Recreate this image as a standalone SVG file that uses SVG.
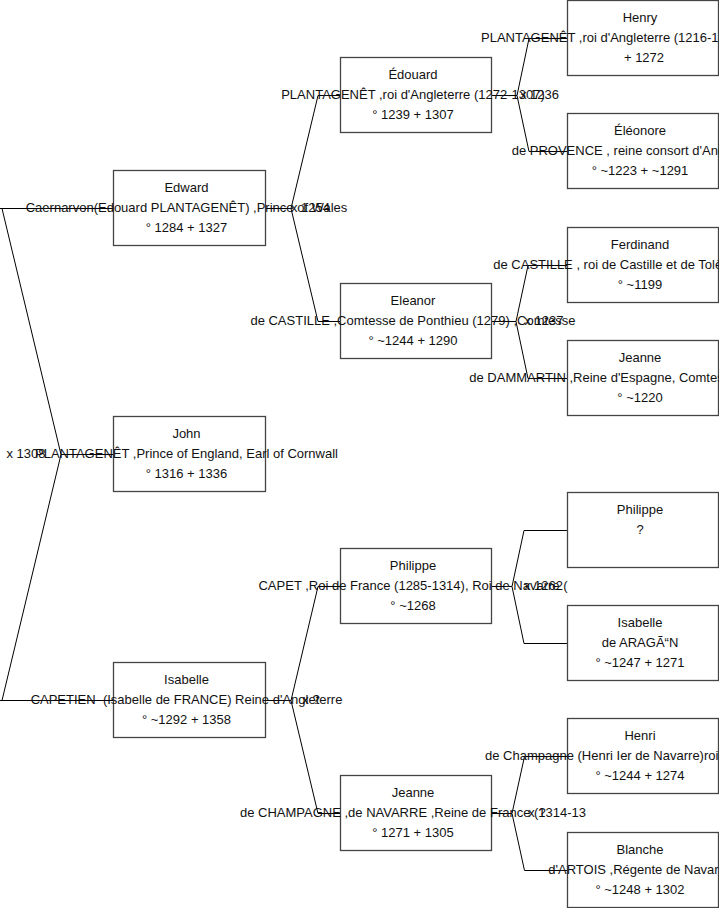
<svg xmlns="http://www.w3.org/2000/svg" width="719" height="908" viewBox="0 0 719 908">
<style>
.box{fill:#fff;stroke:#444;stroke-width:1.3}
.t{font-family:"Liberation Sans",Arial,sans-serif;font-size:13px;fill:#111;text-anchor:middle}
.s{text-anchor:start}
.c{fill:none;stroke:#000;stroke-width:1}
</style>
<rect width="719" height="908" fill="#fff"/>
<g id="connectors">
<path class="c" d="M113.5,454.5 H61 M61,454.5 L2,208.5 M0,208.5 H113.5 M61,454.5 L2,700.5 M0,700.5 H113.5"/>
<path class="c" d="M265.5,208.5 H291 L318,95.5 H340.5 M291,208.5 L318,321.5 H340.5"/>
<path class="c" d="M265.5,700.5 H291 L318,586.5 H340.5 M291,700.5 L318,813.5 H340.5"/>
<path class="c" d="M491.5,95.5 H517 L529,38.5 H567.5 M517,95.5 L529,151.5 H567.5"/>
<path class="c" d="M491.5,321.5 H516 L528,265.5 H567.5 M516,321.5 L528,378.5 H567.5"/>
<path class="c" d="M491.5,586.5 H512 L524,530.5 H567.5 M512,586.5 L524,643.5 H567.5"/>
<path class="c" d="M491.5,813.5 H512 L524.5,756.5 H567.5 M512,813.5 L524.5,870.5 H567.5"/>
</g>
<g id="n-edward">
<rect class="box" x="113.5" y="170.5" width="152" height="75"/>
<text class="t" x="186.5" y="191.5">Edward</text>
<text class="t" x="186.5" y="211.5">Caernarvon(Edouard PLANTAGENÊT) ,Prince of Wales</text>
<text class="t" x="186.5" y="231.5">° 1284 + 1327</text>
</g>
<g id="n-john">
<rect class="box" x="113.5" y="416.5" width="152" height="75"/>
<text class="t" x="186.5" y="437.5">John</text>
<text class="t" x="186.5" y="457.5">PLANTAGENÊT ,Prince of England, Earl of Cornwall</text>
<text class="t" x="186.5" y="477.5">° 1316 + 1336</text>
</g>
<g id="n-isabelle">
<rect class="box" x="113.5" y="662.5" width="152" height="75"/>
<text class="t" x="186.5" y="683.5">Isabelle</text>
<text class="t" x="186.5" y="703.5" xml:space="preserve">CAPETIEN  (Isabelle de FRANCE) Reine d'Angleterre</text>
<text class="t" x="186.5" y="723.5">° ~1292 + 1358</text>
</g>
<g id="n-edouard">
<rect class="box" x="340.5" y="57.5" width="151" height="75"/>
<text class="t" x="413" y="78.5">Édouard</text>
<text class="t" x="413" y="98.5">PLANTAGENÊT ,roi d'Angleterre (1272-1307)</text>
<text class="t" x="413" y="118.5">° 1239 + 1307</text>
</g>
<g id="n-eleanor">
<rect class="box" x="340.5" y="283.5" width="151" height="75"/>
<text class="t" x="413" y="304.5">Eleanor</text>
<text class="t" x="413" y="324.5">de CASTILLE ,Comtesse de Ponthieu (1279) ,Comtesse</text>
<text class="t" x="413" y="344.5">° ~1244 + 1290</text>
</g>
<g id="n-philippe4">
<rect class="box" x="340.5" y="548.5" width="151" height="75"/>
<text class="t" x="413" y="569.5">Philippe</text>
<text class="t" x="413" y="589.5">CAPET ,Roi de France (1285-1314), Roi de Navarre (</text>
<text class="t" x="413" y="609.5">° ~1268</text>
</g>
<g id="n-jeanne1">
<rect class="box" x="340.5" y="775.5" width="151" height="75"/>
<text class="t" x="413" y="796.5">Jeanne</text>
<text class="t" x="413" y="816.5">de CHAMPAGNE ,de NAVARRE ,Reine de France (1314-13</text>
<text class="t" x="413" y="836.5">° 1271 + 1305</text>
</g>
<g id="n-henry">
<rect class="box" x="567.5" y="0.5" width="151" height="75"/>
<text class="t" x="640" y="21.5">Henry</text>
<text class="t s" x="481" y="41.5">PLANTAGENÊT ,roi d'Angleterre (1216-1272)</text>
<text class="t" x="644" y="61.5">+ 1272</text>
</g>
<g id="n-eleonore">
<rect class="box" x="567.5" y="113.5" width="151" height="75"/>
<text class="t" x="640" y="134.5">Éléonore</text>
<text class="t s" x="511.7" y="154.5">de PROVENCE , reine consort d'Angleterre</text>
<text class="t" x="640" y="174.5">° ~1223 + ~1291</text>
</g>
<g id="n-ferdinand">
<rect class="box" x="567.5" y="227.5" width="151" height="75"/>
<text class="t" x="640" y="248.5">Ferdinand</text>
<text class="t s" x="493.3" y="268.5">de CASTILLE , roi de Castille et de Tolède</text>
<text class="t" x="640" y="288.5">° ~1199</text>
</g>
<g id="n-jeanne-dammartin">
<rect class="box" x="567.5" y="340.5" width="151" height="75"/>
<text class="t" x="640" y="361.5">Jeanne</text>
<text class="t s" x="469.3" y="381.5">de DAMMARTIN ,Reine d'Espagne, Comtesse</text>
<text class="t" x="640" y="401.5">° ~1220</text>
</g>
<g id="n-philippe3">
<rect class="box" x="567.5" y="492.5" width="151" height="75"/>
<text class="t" x="640" y="513.5">Philippe</text>
<text class="t" x="640" y="533.5">?</text>
</g>
<g id="n-isabelle-aragon">
<rect class="box" x="567.5" y="605.5" width="151" height="75"/>
<text class="t" x="640" y="626.5">Isabelle</text>
<text class="t" x="640" y="646.5">de ARAGÃ“N</text>
<text class="t" x="640" y="666.5">° ~1247 + 1271</text>
</g>
<g id="n-henri">
<rect class="box" x="567.5" y="718.5" width="151" height="75"/>
<text class="t" x="640" y="739.5">Henri</text>
<text class="t s" x="485" y="759.5">de Champagne (Henri Ier de Navarre)roi de Navarre</text>
<text class="t" x="640" y="779.5">° ~1244 + 1274</text>
</g>
<g id="n-blanche">
<rect class="box" x="567.5" y="832.5" width="151" height="75"/>
<text class="t" x="640" y="853.5">Blanche</text>
<text class="t s" x="548.3" y="873.5">d'ARTOIS ,Régente de Navarre</text>
<text class="t" x="640" y="893.5">° ~1248 + 1302</text>
</g>
<g id="marriage-labels">
<text class="t" x="26" y="457.5">x 1308</text>
<text class="t" x="310.5" y="211.5">x 1254</text>
<text class="t" x="311" y="703.5">x ?</text>
<text class="t" x="539.5" y="98.5">x 1236</text>
<text class="t" x="544" y="324.5">x 1237</text>
<text class="t" x="543.5" y="589.5">x 1262</text>
<text class="t" x="537" y="816.5">x ?</text>
</g>
</svg>
